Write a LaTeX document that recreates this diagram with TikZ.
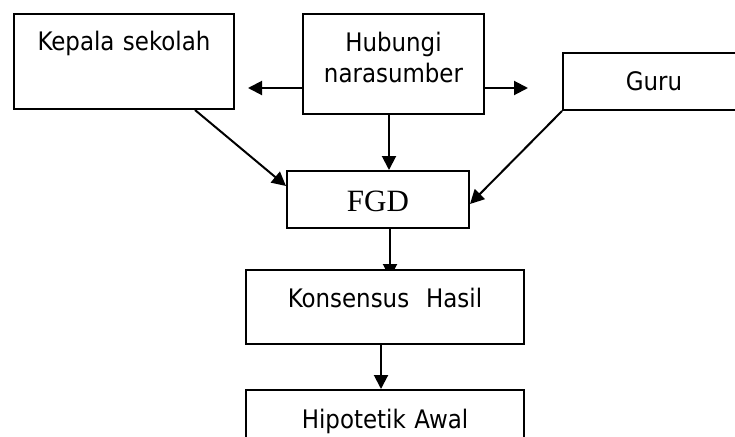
\documentclass[tikz,border=0pt]{standalone}
\usepackage{fontspec}
\setmainfont{DejaVu Sans Condensed}
\newfontfamily\serifft{Liberation Serif}
\usetikzlibrary{arrows.meta,backgrounds}

\begin{document}
\begin{tikzpicture}[x=1pt, y=-1pt,
		kotak/.style={draw, black, line width=2pt, fill=white, inner sep=0pt, anchor=north west, align=center, font=\fontsize{25.5}{31}\selectfont},
		panah/.style={-{Triangle[length=14pt, width=14pt]}, black, line width=2pt}]
		\useasboundingbox	(0, 0) rectangle (735, 436);

		\node[kotak, text width=220pt, text height=37pt, text depth=58pt]	(kepala) at (13, 13) {Kepala sekolah};
		\node[kotak, text width=181pt, text height=38pt, text depth=62pt]	(hub) at (302, 13) {Hubungi\\narasumber};
		\node[kotak, text width=182pt, text height=37pt, text depth=20pt]	(guru) at (562, 52) {Guru};
		\node[kotak, text width=182pt, text height=40pt, text depth=17pt, font=\serifft\fontsize{31}{31}\selectfont]	(fgd) at (286, 170) {FGD};
		\node[kotak, text width=278pt, text height=37pt, text depth=36.5pt]	(kons) at (245, 269) {Konsensus\ \ Hasil};
		\node[kotak, text width=278pt, text height=38pt, text depth=60pt]	(hip) at (245, 389) {Hipotetik Awal};

		\coordinate (kiri)	at (248, 88);
		\coordinate (kanan)	at (528, 88);

		\draw[panah]	(hub.west |- kiri) to (kiri);
		\draw[panah]	(hub.east |- kanan) to (kanan);

		\draw[panah]	([xshift=-40pt]kepala.south east) to ([yshift=13.5pt]fgd.west);
		\draw[panah]	([xshift=-4.5pt]hub.south) to ([xshift=-4.5pt]hub.south |- fgd.north);
		\draw[panah]	(guru.south west) to ([yshift=-4.5pt]fgd.east);

		\begin{pgfonlayer}{background}
			\draw[panah]	([xshift=12pt]fgd.south) to ([xshift=12pt, yshift=-9pt]fgd.south |- kons.north);
		\end{pgfonlayer}

		\draw[panah]	([xshift=-4pt]kons.south) to ([xshift=-4pt]kons.south |- hip.north);
	\end{tikzpicture}
\end{document}
